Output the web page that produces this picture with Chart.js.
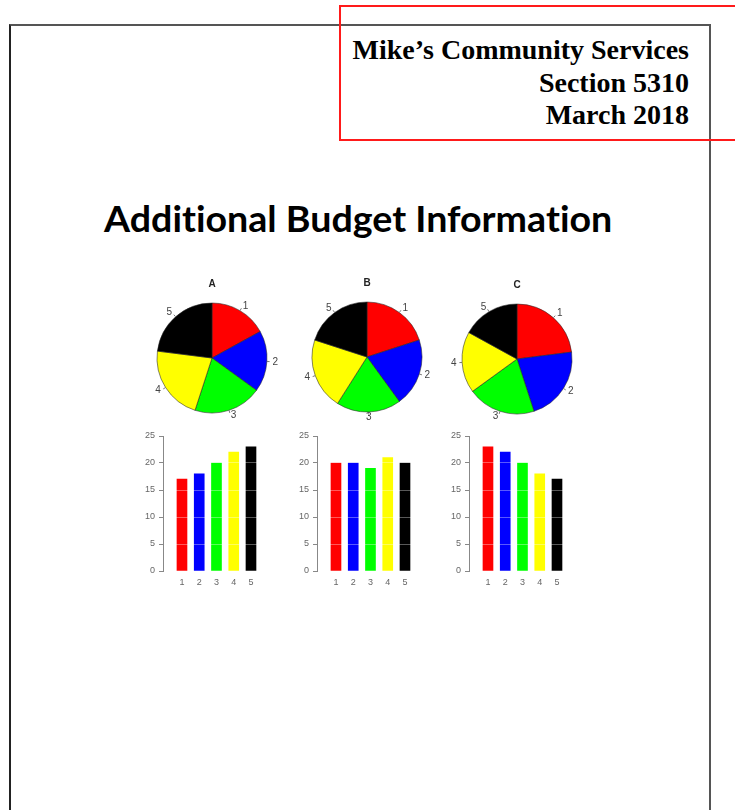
<!DOCTYPE html>
<html>
<head>
<meta charset="utf-8">
<title>Additional Budget Information</title>
<script src="https://cdn.jsdelivr.net/npm/chart.js@4.4.1/dist/chart.umd.min.js"></script>
<style>
    html, body { margin: 0; padding: 0; background: #fff; }
    body { width: 735px; height: 810px; position: relative; overflow: hidden; }
    .page-border {
        position: absolute; left: 9px; top: 24px; width: 702px; height: 820px;
        border: 2px solid #555; border-left-color: #222; box-sizing: border-box;
    }
    .red-box {
        position: absolute; left: 339px; top: 5px; width: 420px; height: 136px;
        border: 2px solid #ff1a1a; box-sizing: border-box;
    }
    .header {
        position: absolute; right: 46px; top: 34px;
        font-family: "Liberation Serif", "Times New Roman", serif;
        font-weight: bold; font-size: 28px; line-height: 32.5px;
        text-align: right; color: #000;
    }
    .title {
        position: absolute; left: -9px; width: 735px; top: 196px; text-align: center;
        font-family: Lato, "Open Sans", sans-serif; font-weight: bold;
        font-size: 37px; line-height: 44px; color: #000;
        font-variant-ligatures: none;
    }
    .title span { display: inline-block; transform-origin: center; white-space: nowrap; }
    canvas { position: absolute; }
</style>
</head>
<body>
<div class="page-border"></div>
<div class="red-box"></div>
<div class="header">Mike’s Community Services<br>Section 5310<br>March 2018</div>
<div class="title"><span id="titleText">Additional Budget Information</span></div>

<canvas id="pieA" width="150" height="160" style="left:137px; top:270px;"></canvas>
<canvas id="pieB" width="150" height="160" style="left:292px; top:269px;"></canvas>
<canvas id="pieC" width="150" height="160" style="left:442px; top:271px;"></canvas>

<canvas id="barA" width="140" height="170" style="left:130px; top:425px;"></canvas>
<canvas id="barB" width="140" height="170" style="left:284px; top:425px;"></canvas>
<canvas id="barC" width="140" height="170" style="left:436px; top:425px;"></canvas>

<script>
// Chart data
const categories = ['1', '2', '3', '4', '5'];
const seriesA = [17, 18, 20, 22, 23];
const seriesB = [20, 20, 19, 21, 20];
const seriesC = [23, 22, 20, 18, 17];
const chartTitles = ['A', 'B', 'C'];
const sliceColors = ['#ff0000', '#0000ff', '#00ff00', '#ffff00', '#000000'];
const yTicks = [0, 5, 10, 15, 20, 25];

// squeeze the title to the width of the original (narrow font there)
const titleSpan = document.getElementById('titleText');
const titleScale = 508 / titleSpan.offsetWidth;
titleSpan.style.transform = 'scaleX(' + titleScale + ')';

Chart.defaults.font.family = "'Liberation Sans', Arial, sans-serif";
Chart.defaults.animation = false;

// labels 1..5 outside the pie slices, R style
const pieLabels = {
    id: 'pieLabels',
    afterDatasetsDraw(chart) {
        const ctx = chart.ctx;
        const meta = chart.getDatasetMeta(0);
        ctx.save();
        ctx.font = "10px 'Liberation Sans', Arial, sans-serif";
        ctx.fillStyle = '#444';
        ctx.strokeStyle = '#777';
        ctx.lineWidth = 1;
        ctx.textBaseline = 'middle';
        meta.data.forEach(function(arc, i) {
            const p = arc.getProps(['x', 'y', 'startAngle', 'endAngle', 'outerRadius'], true);
            const mid = (p.startAngle + p.endAngle) / 2;
            const c = Math.cos(mid), s = Math.sin(mid);
            const r = p.outerRadius;
            ctx.beginPath();
            ctx.moveTo(p.x + c * r, p.y + s * r);
            ctx.lineTo(p.x + c * r * 1.05, p.y + s * r * 1.05);
            ctx.stroke();
            ctx.textAlign = c > 0.1 ? 'left' : (c < -0.1 ? 'right' : 'center');
            ctx.fillText(chart.data.labels[i], p.x + c * r * 1.1, p.y + s * r * 1.1);
        });
        ctx.restore();
    }
};

function makePie(id, title, values) {
    const canvas = document.getElementById(id);
    return new Chart(canvas.getContext('2d'), {
        type: 'pie',
        data: {
            labels: categories,
            datasets: [{
                data: values,
                backgroundColor: sliceColors,
                borderColor: 'rgba(40, 40, 40, 0.7)',
                borderWidth: 0.8
            }]
        },
        options: {
            responsive: false,
            devicePixelRatio: 1,
            radius: 55,
            layout: { padding: { bottom: 8 } },
            plugins: {
                legend: { display: false },
                tooltip: { enabled: false },
                title: {
                    display: true,
                    text: title,
                    color: '#222',
                    font: { size: 10, weight: 'bold' },
                    padding: { top: 8, bottom: 4 }
                }
            }
        },
        plugins: [pieLabels]
    });
}

function makeBar(id, values) {
    const canvas = document.getElementById(id);
    return new Chart(canvas.getContext('2d'), {
        type: 'bar',
        data: {
            datasets: [{
                data: values.map(function(v, i) { return { x: i + 1, y: v }; }),
                backgroundColor: sliceColors,
                barThickness: 10,
                borderWidth: 0
            }]
        },
        options: {
            responsive: false,
            devicePixelRatio: 1,
            layout: { padding: { top: 11, right: 9, left: 0, bottom: 0 } },
            plugins: {
                legend: { display: false },
                tooltip: { enabled: false }
            },
            scales: {
                x: {
                    type: 'linear',
                    offset: false,
                    min: -0.1,
                    max: 5.58,
                    grid: { display: false, drawTicks: false, offset: false },
                    border: { display: false },
                    afterBuildTicks: function(scale) {
                        scale.ticks = categories.map(function(c, i) { return { value: i + 1 }; });
                    },
                    ticks: {
                        color: '#666',
                        font: { size: 9 },
                        padding: 6,
                        maxRotation: 0,
                        autoSkip: false,
                        callback: function(value) {
                            return categories[value - 1] || '';
                        }
                    },
                    afterFit: function(scale) {
                        scale.height = 24;
                        scale.paddingLeft = 0;
                        scale.paddingRight = 0;
                    }
                },
                y: {
                    min: 0,
                    max: 25,
                    afterBuildTicks: function(scale) {
                        scale.ticks = yTicks.map(function(v) { return { value: v }; });
                    },
                    ticks: {
                        color: '#666',
                        font: { size: 9 },
                        padding: 4
                    },
                    grid: {
                        color: 'rgba(255, 255, 255, 0.35)',
                        z: 1,
                        tickColor: '#888',
                        tickLength: 4
                    },
                    // border after the grid layer, else its position is not known yet
                    border: { color: '#888', width: 1, z: 2 },
                    afterFit: function(scale) { scale.width = 33; }
                }
            }
        }
    });
}

makePie('pieA', chartTitles[0], seriesA);
makePie('pieB', chartTitles[1], seriesB);
makePie('pieC', chartTitles[2], seriesC);

makeBar('barA', seriesA);
makeBar('barB', seriesB);
makeBar('barC', seriesC);
</script>
</body>
</html>
